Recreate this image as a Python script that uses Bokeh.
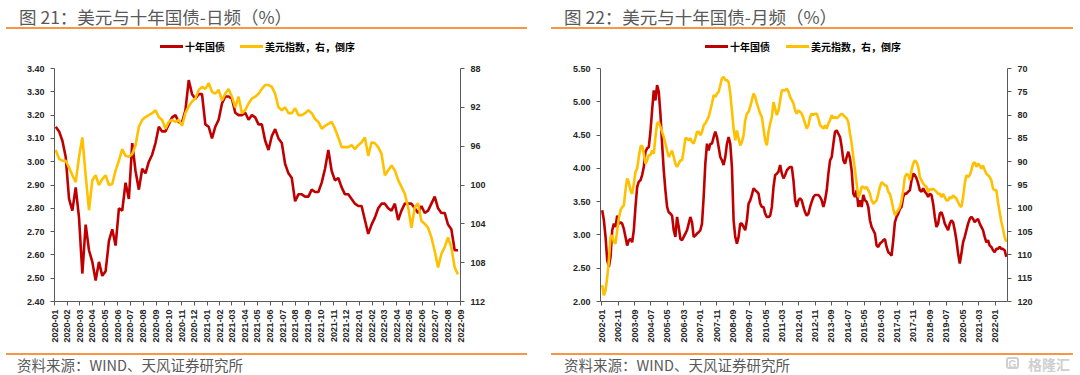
import math
import pandas as pd
from bokeh.plotting import figure
from bokeh.models import (Range1d, LinearAxis, FixedTicker, DatetimeTickFormatter,
                          NumeralTickFormatter, Div)
from bokeh.layouts import row, column
from bokeh.embed import file_html
from bokeh.resources import INLINE

# ---------------- Chart 21: daily (values read at equal steps) ----------------
daily_start = "2020-01-04"
daily_end = "2022-08-26"
daily_cgb10y = [
    3.15, 3.13, 3.09, 3.02, 2.84, 2.79, 2.89, 2.76, 2.52, 2.73,
    2.62, 2.57, 2.49, 2.57, 2.51, 2.53, 2.66, 2.71, 2.64, 2.80,
    2.79, 2.91, 2.84, 3.08, 2.96, 2.88, 2.97, 2.95, 3.00, 3.03,
    3.08, 3.15, 3.13, 3.13, 3.16, 3.19, 3.20, 3.17, 3.17, 3.22,
    3.35, 3.29, 3.27, 3.29, 3.29, 3.16, 3.15, 3.10, 3.15, 3.18,
    3.25, 3.28, 3.28, 3.27, 3.21, 3.20, 3.20, 3.21, 3.18, 3.20,
    3.19, 3.16,
    3.16, 3.09, 3.05, 3.11, 3.14, 3.10, 3.08, 2.99, 2.95, 2.93,
    2.83, 2.86, 2.86, 2.85, 2.85, 2.88, 2.87, 2.87, 2.91, 2.97,
    3.05, 2.96, 2.92, 2.93, 2.89, 2.86, 2.86, 2.84, 2.82, 2.81,
    2.81, 2.75, 2.69, 2.73, 2.76, 2.80, 2.82, 2.82, 2.80, 2.79,
    2.82, 2.75, 2.79, 2.82, 2.82, 2.82, 2.80, 2.78, 2.81, 2.78,
    2.79, 2.82, 2.85, 2.80, 2.78, 2.78, 2.73, 2.71, 2.62, 2.62,
]
daily_dxy = [
    96.4, 97.3, 97.5, 97.5, 98.2, 99.0, 99.7, 97.1, 95.1, 99.0,
    102.6, 99.5, 99.0, 100.0, 99.4, 99.0, 100.0, 99.9, 98.5, 97.5,
    96.3, 97.0, 97.1, 96.8, 95.9, 94.0, 93.3, 93.0, 92.8, 92.6,
    92.3, 93.0, 93.3, 94.2, 93.5, 93.3, 93.5, 93.3, 93.9, 92.6,
    91.9, 91.4, 91.1, 90.2, 89.9, 90.1, 89.5, 90.4, 90.6, 90.2,
    91.3, 90.6, 90.1, 90.9, 92.0, 90.9, 92.6, 92.3, 91.6, 91.1,
    90.9, 90.6,
    90.1, 89.7, 89.7, 89.9, 90.6, 92.0, 92.3, 92.0, 92.6, 92.6,
    92.1, 92.8, 92.8, 92.6, 92.3, 92.6, 93.2, 93.5, 94.2, 93.9,
    93.7, 93.5, 94.2, 95.1, 96.1, 96.1, 96.1, 95.9, 96.3, 95.9,
    95.6, 95.1, 97.0, 95.6, 95.7, 96.1, 96.8, 99.0, 98.5, 98.0,
    98.5, 99.5, 100.2, 100.9, 102.3, 104.4, 102.3, 101.9, 103.7, 104.0,
    104.4, 105.4, 106.8, 108.5, 107.1, 106.4, 105.4, 106.4, 108.5, 109.2,
]
daily_x_range = ("2020-01-01", "2022-09-01")
daily_tick_labels = [
    "2020-01", "2020-02", "2020-03", "2020-04", "2020-05", "2020-06", "2020-07",
    "2020-08", "2020-09", "2020-10", "2020-11", "2020-12", "2021-01", "2021-02",
    "2021-03", "2021-04", "2021-05", "2021-06", "2021-07", "2021-08", "2021-09",
    "2021-10", "2021-11", "2021-12", "2022-01", "2022-02", "2022-03", "2022-04",
    "2022-05", "2022-06", "2022-07", "2022-08", "2022-09",
]
daily_left_ticks = [2.40, 2.50, 2.60, 2.70, 2.80, 2.90, 3.00, 3.10, 3.20, 3.30, 3.40]
daily_right_ticks = [88, 92, 96, 100, 104, 108, 112]

# ---------------- Chart 22: monthly ----------------
monthly_start = "2002-01-08"
monthly_end = "2022-07-22"
monthly_cgb10y = [
    3.37, 3.22, 2.97, 2.62, 2.52, 2.67, 3.07, 3.17, 3.12, 3.29,
    3.17, 3.19, 3.17, 3.09, 2.97, 2.84, 2.92, 2.94, 2.89, 3.07,
    3.42, 3.72, 3.80, 3.82, 3.90, 4.02, 4.25, 4.30, 4.32, 4.55,
    4.87, 5.17, 5.02, 5.25, 5.15, 4.82, 4.37, 3.97, 3.67, 3.42,
    3.34, 3.32, 3.29, 3.07, 2.97, 3.27, 3.12, 2.94, 2.92, 2.97,
    3.02, 3.07, 3.17, 3.27, 3.19, 2.97, 2.99, 3.02, 3.04, 3.07,
    3.17, 3.57, 4.07, 4.37, 4.27, 4.37, 4.37, 4.47, 4.55, 4.47,
    4.32, 4.17, 4.12, 4.05, 4.17, 4.37, 4.47, 4.37, 4.02, 3.22,
    2.97, 2.87, 2.97, 3.17, 3.17, 3.12, 3.07, 3.22, 3.47, 3.52,
    3.60, 3.70, 3.67, 3.65, 3.62, 3.47, 3.42, 3.42, 3.32, 3.27,
    3.27, 3.29, 3.42, 3.72, 3.90, 3.92, 3.95, 4.05, 3.92, 3.85,
    3.90, 3.97, 4.00, 4.02,
    4.02, 3.82, 3.52, 3.42, 3.52, 3.55, 3.52, 3.42, 3.34, 3.29,
    3.32, 3.42, 3.50, 3.57, 3.60, 3.60, 3.60, 3.57, 3.52, 3.42,
    3.52, 3.67, 3.92, 4.12, 4.17, 4.37, 4.55, 4.57, 4.52, 4.47,
    4.32, 4.12, 4.07, 4.17, 4.25, 4.15, 3.97, 3.62, 3.57, 3.67,
    3.42, 3.52, 3.42, 3.60, 3.52, 3.50, 3.42, 3.22, 3.12, 3.07,
    3.02, 2.84, 2.82, 2.87, 2.89, 2.92, 2.94, 2.82, 2.74, 2.72,
    2.69, 2.92, 3.19, 3.27, 3.32, 3.39, 3.42, 3.57, 3.62, 3.62,
    3.65, 3.67, 3.82, 3.92, 3.90, 3.85, 3.77, 3.67, 3.65, 3.70,
    3.65, 3.62, 3.57, 3.62, 3.60, 3.47, 3.27, 3.12, 3.17, 3.32,
    3.34, 3.27, 3.17, 3.12, 3.07, 3.17, 3.22, 3.19, 3.07, 2.92,
    2.72, 2.57, 2.72, 2.89, 2.97, 3.07, 3.17, 3.24, 3.27, 3.24,
    3.19, 3.22, 3.24, 3.17, 3.12, 3.07, 2.97, 2.89, 2.92, 2.84,
    2.82, 2.77, 2.74, 2.79, 2.79, 2.82, 2.79, 2.79, 2.77, 2.67,
]
monthly_dxy = [
    116.5, 118.7, 117.6, 114.8, 111.2, 106.2, 105.8, 107.2, 107.6, 104.7,
    102.2, 100.4, 99.7, 99.4, 96.1, 93.6, 94.4, 96.1, 96.9, 94.7,
    92.2, 91.5, 89.0, 86.8, 86.5, 88.3, 90.4, 89.7, 88.6, 88.6,
    87.6, 88.3, 84.7, 81.8, 81.5, 82.5, 83.6, 84.7, 86.1, 87.6,
    89.0, 88.3, 87.6, 89.0, 90.4, 91.1, 90.4, 89.7, 89.7, 87.6,
    85.0, 85.0, 85.4, 85.0, 85.8, 86.1, 85.0, 83.6, 83.6, 84.3,
    83.6, 82.2, 81.8, 81.1, 80.4, 79.0, 77.5, 75.7, 76.1, 75.4,
    75.0, 73.6, 72.1, 71.8, 72.5, 72.5, 72.9, 75.4, 79.0, 82.9,
    85.4, 83.3, 85.0, 86.5, 85.8, 84.3, 81.1, 79.7, 79.3, 78.2,
    76.8, 75.4, 76.1, 77.5, 78.6, 79.7, 80.4, 82.9, 85.4, 86.5,
    83.6, 81.8, 80.4, 77.2, 78.6, 80.0, 79.0, 76.8, 74.7, 74.7,
    74.7, 74.3, 75.0, 76.1,
    76.8, 77.5, 79.0, 79.7, 79.0, 79.3, 79.7, 80.7, 81.8, 82.9,
    82.2, 80.4, 79.7, 80.0, 79.7, 79.7, 80.7, 82.2, 82.5, 82.9,
    82.2, 82.9, 81.8, 81.1, 80.0, 80.7, 80.4, 80.7, 80.4, 80.0,
    79.7, 80.0, 80.4, 80.7, 81.5, 84.0, 86.1, 89.0, 91.8, 94.7,
    97.6, 96.9, 95.4, 95.4, 95.8, 95.4, 96.1, 96.9, 98.3, 99.0,
    98.7, 98.3, 96.9, 95.4, 94.4, 94.7, 95.1, 95.1, 96.5, 96.9,
    98.3, 100.1, 101.5, 100.8, 100.4, 99.7, 98.3, 96.1, 93.3, 92.6,
    92.9, 94.0, 91.8, 90.4, 89.7, 90.1, 91.1, 93.3, 94.0, 94.7,
    95.1, 95.4, 96.5, 95.8, 96.1, 95.8, 96.1, 96.5, 96.9, 96.9,
    97.6, 96.9, 97.6, 98.3, 98.3, 97.6, 97.9, 97.2, 97.6, 97.9,
    98.7, 99.4, 99.7, 97.6, 94.7, 92.9, 93.3, 92.9, 91.8, 90.4,
    90.1, 91.1, 90.4, 90.8, 91.5, 90.8, 91.8, 92.6, 92.9, 93.3,
    94.0, 95.8, 96.1, 96.1, 98.7, 100.8, 102.9, 104.4, 106.2, 107.2,
]
monthly_x_range = ("2001-12-07", "2022-08-13")
monthly_tick_labels = [
    "2002-01", "2002-11", "2003-09", "2004-07", "2005-05", "2006-03", "2007-01",
    "2007-11", "2008-09", "2009-07", "2010-05", "2011-03", "2012-01", "2012-11",
    "2013-09", "2014-07", "2015-05", "2016-03", "2017-01", "2017-11", "2018-09",
    "2019-07", "2020-05", "2021-03", "2022-01",
]
monthly_left_ticks = [2.00, 2.50, 3.00, 3.50, 4.00, 4.50, 5.00, 5.50]
monthly_right_ticks = [70, 75, 80, 85, 90, 95, 100, 105, 110, 115, 120]

series_names = ["十年国债", "美元指数，右，倒序"]
titles = ["图 21：美元与十年国债-日频（%）", "图 22：美元与十年国债-月频（%）"]
source_text = "资料来源：WIND、天风证券研究所"
watermark_text = "格隆汇"

RED = "#C00000"
YELLOW = "#FFC000"
ORANGE = "#F79646"
AX = "#595959"
CJK = "'Noto Sans CJK SC'"
W = 540
HEAD_H, CHART_H, FOOT_H = 60, 290, 25
DIV_STYLE = {"margin": "0", "padding": "0", "overflow": "hidden", "background": "white"}


def ms(s):
    return pd.Timestamp(s).timestamp() * 1000.0


def header(title, tx, rule, red_x, yel_x):
    html = (
        f'<div style="position:relative;width:{W}px;height:{HEAD_H}px;font-family:{CJK};">'
        f'<div style="position:absolute;left:{tx}px;top:4px;font-size:17.5px;line-height:25px;'
        f'color:#595959;white-space:nowrap;">{title}</div>'
        f'<div style="position:absolute;left:{rule[0]}px;top:27px;width:{rule[1]-rule[0]}px;'
        f'height:1.6px;background:{ORANGE};"></div>'
        f'<div style="position:absolute;left:{red_x}px;top:45px;width:23px;height:3px;'
        f'background:{RED};"></div>'
        f'<div style="position:absolute;left:{red_x+25}px;top:39px;font-size:10px;line-height:15px;'
        f'font-weight:bold;color:#000;white-space:nowrap;">{series_names[0]}</div>'
        f'<div style="position:absolute;left:{yel_x}px;top:45px;width:23px;height:3px;'
        f'background:{YELLOW};"></div>'
        f'<div style="position:absolute;left:{yel_x+25}px;top:39px;font-size:10px;line-height:15px;'
        f'font-weight:bold;color:#000;white-space:nowrap;">{series_names[1]}</div>'
        '</div>'
    )
    return Div(text=html, width=W, height=HEAD_H, styles=DIV_STYLE)


def footer(tx, rule, watermark=False):
    wm = ""
    if watermark:
        wm = (
            '<div style="position:absolute;left:466px;top:7px;width:13px;height:12px;'
            'border:2px solid #cfcfcf;border-radius:3px;color:#cfcfcf;font-family:\'Liberation Sans\';'
            'font-size:10px;font-weight:bold;line-height:12px;text-align:center;">G</div>'
            f'<div style="position:absolute;left:488px;top:6px;font-size:14px;line-height:17px;'
            f'font-weight:bold;color:#cfcfcf;white-space:nowrap;">{watermark_text}</div>'
        )
    html = (
        f'<div style="position:relative;width:{W}px;height:{FOOT_H}px;font-family:{CJK};">'
        f'<div style="position:absolute;left:{rule[0]}px;top:3px;width:{rule[1]-rule[0]}px;'
        f'height:1.6px;background:{ORANGE};"></div>'
        f'<div style="position:absolute;left:{tx}px;top:6px;font-size:14.5px;line-height:17px;'
        f'color:#595959;white-space:nowrap;">{source_text}</div>'
        f'{wm}</div>'
    )
    return Div(text=html, width=W, height=FOOT_H, styles=DIV_STYLE)


def style_axis(ax):
    ax.axis_line_color = AX
    ax.axis_line_width = 1
    ax.major_tick_line_color = AX
    ax.major_tick_out = 4
    ax.major_tick_in = 0
    ax.minor_tick_line_color = None
    ax.major_label_text_font = "Liberation Sans"
    ax.major_label_text_font_size = "9px"
    ax.major_label_text_font_style = "bold"
    ax.major_label_text_color = "#262626"


def chart(start, end, cgb, dxy, xr, tick_labels, lticks, rticks, bl, br):
    p = figure(width=W, height=CHART_H, x_axis_type="datetime", output_backend="svg",
               toolbar_location=None, min_border_left=bl, min_border_right=br,
               min_border_top=8, min_border_bottom=CHART_H - 8 - 233,
               x_range=Range1d(ms(xr[0]), ms(xr[1])),
               y_range=Range1d(lticks[0], lticks[-1]))
    p.background_fill_color = "white"
    p.border_fill_color = "white"
    p.outline_line_color = None
    p.xgrid.visible = False
    p.ygrid.visible = False
    p.extra_y_ranges = {"dxy": Range1d(start=rticks[-1], end=rticks[0])}

    dates = pd.date_range(start, end, periods=len(cgb))
    p.line(dates, cgb, line_color=RED, line_width=2.6)
    p.line(dates, dxy, line_color=YELLOW, line_width=2.6, y_range_name="dxy")

    style_axis(p.yaxis[0])
    p.yaxis.ticker = FixedTicker(ticks=lticks)
    p.yaxis.formatter = NumeralTickFormatter(format="0.00")
    p.yaxis.major_label_standoff = 6

    style_axis(p.xaxis[0])
    p.xaxis.ticker = FixedTicker(ticks=[ms(t + "-01") for t in tick_labels])
    fmt = "%Y-%m"
    p.xaxis.formatter = DatetimeTickFormatter(years=fmt, months=fmt, days=fmt,
                                              hours=fmt, minutes=fmt, seconds=fmt)
    p.xaxis.major_label_orientation = math.pi / 2
    p.xaxis.major_label_standoff = 4

    rax = LinearAxis(y_range_name="dxy", ticker=FixedTicker(ticks=rticks))
    style_axis(rax)
    rax.major_label_standoff = 6
    p.add_layout(rax, "right")
    return p


left = column(
    header(titles[0], 19, (6, 527), 160, 240),
    chart(daily_start, daily_end, daily_cgb10y, daily_dxy, daily_x_range,
          daily_tick_labels, daily_left_ticks, daily_right_ticks, bl=54, br=80),
    footer(17, (6, 527)),
    spacing=0,
)
right = column(
    header(titles[1], 24, (11, 533), 165, 246),
    chart(monthly_start, monthly_end, monthly_cgb10y, monthly_dxy, monthly_x_range,
          monthly_tick_labels, monthly_left_ticks, monthly_right_ticks, bl=60, br=73),
    footer(24, (11, 533), watermark=True),
    spacing=0,
)
layout = row(left, right, spacing=0)
open("out.html", "w").write(file_html(layout, INLINE))
